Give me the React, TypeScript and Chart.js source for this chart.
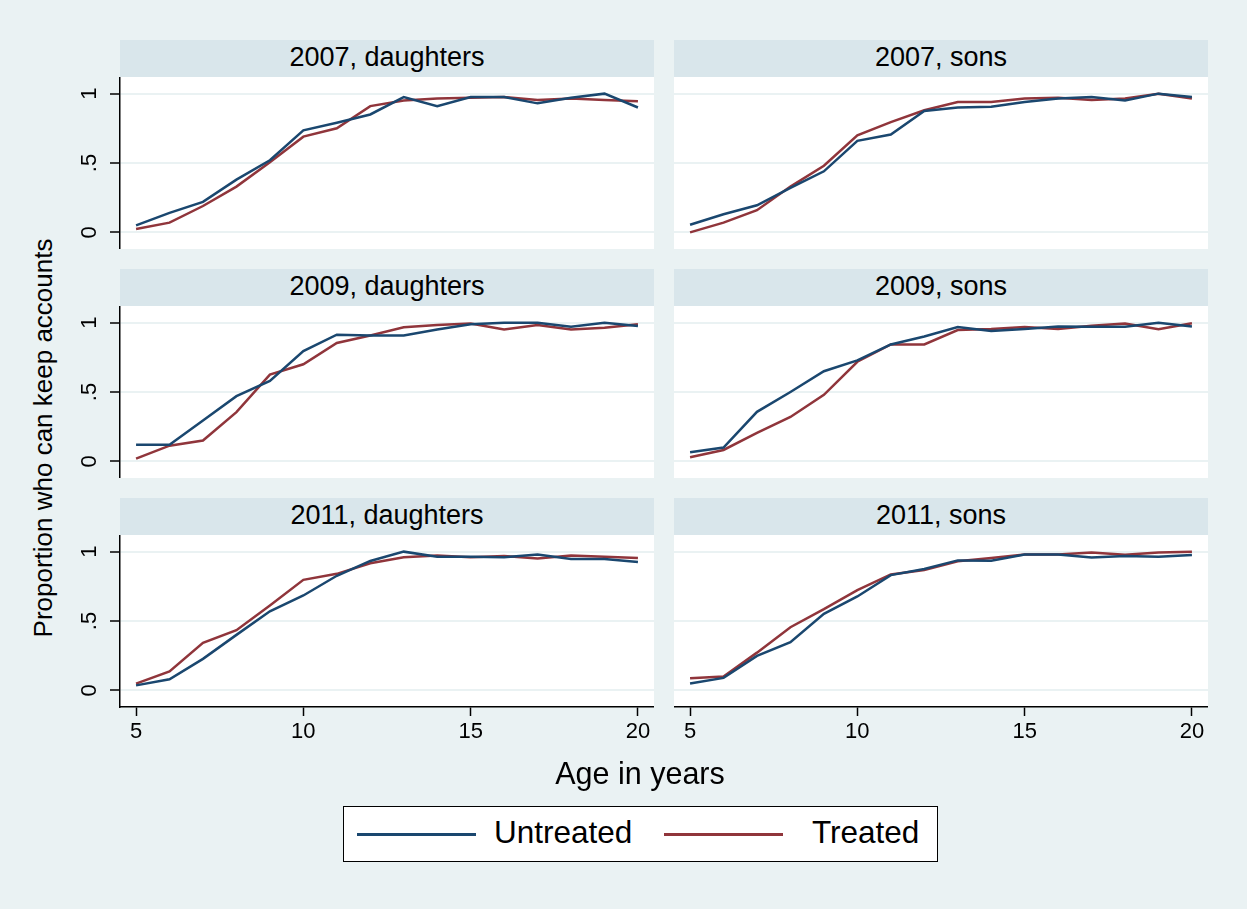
import React, { useEffect, useRef } from 'react';
import { Chart, registerables } from 'chart.js';

Chart.register(...registerables);

// ---------------- data ----------------
const ages = [5, 6, 7, 8, 9, 10, 11, 12, 13, 14, 15, 16, 17, 18, 19, 20];
const xTicks = [5, 10, 15, 20];
const yTicks = [0, 0.5, 1];
const yTickLabels = ['0', '.5', '1'];
const seriesNames = ['Untreated', 'Treated'];
const panelTitles = ['2007, daughters', '2007, sons', '2009, daughters', '2009, sons', '2011, daughters', '2011, sons'];
const xTitle = 'Age in years';
const yTitle = 'Proportion who can keep accounts';

const untreated2007Daughters = [0.05, 0.14, 0.22, 0.38, 0.52, 0.735, 0.79, 0.85, 0.975, 0.91, 0.975, 0.975, 0.93, 0.97, 1.0, 0.9];
const treated2007Daughters = [0.024, 0.07, 0.19, 0.33, 0.505, 0.69, 0.75, 0.91, 0.95, 0.965, 0.97, 0.975, 0.955, 0.965, 0.955, 0.945];
const untreated2007Sons = [0.055, 0.13, 0.195, 0.32, 0.44, 0.66, 0.705, 0.875, 0.9, 0.905, 0.94, 0.965, 0.975, 0.95, 1.0, 0.975];
const treated2007Sons = [0.0, 0.07, 0.16, 0.33, 0.48, 0.7, 0.795, 0.88, 0.94, 0.94, 0.965, 0.97, 0.955, 0.965, 1.0, 0.965];
const untreated2009Daughters = [0.12, 0.12, 0.295, 0.47, 0.58, 0.795, 0.913, 0.908, 0.908, 0.95, 0.988, 1.0, 1.0, 0.97, 1.0, 0.976];
const treated2009Daughters = [0.02, 0.113, 0.15, 0.355, 0.625, 0.7, 0.853, 0.908, 0.966, 0.983, 0.993, 0.95, 0.983, 0.95, 0.964, 0.988];
const untreated2009Sons = [0.065, 0.1, 0.357, 0.5, 0.65, 0.728, 0.843, 0.9, 0.968, 0.94, 0.954, 0.973, 0.971, 0.971, 1.0, 0.973];
const treated2009Sons = [0.029, 0.082, 0.205, 0.32, 0.48, 0.718, 0.843, 0.843, 0.947, 0.954, 0.968, 0.954, 0.978, 0.993, 0.952, 0.995];
const untreated2011Daughters = [0.036, 0.08, 0.227, 0.4, 0.57, 0.684, 0.826, 0.933, 1.0, 0.964, 0.964, 0.96, 0.98, 0.947, 0.947, 0.925];
const treated2011Daughters = [0.048, 0.137, 0.342, 0.434, 0.612, 0.797, 0.84, 0.916, 0.96, 0.973, 0.96, 0.969, 0.95, 0.973, 0.964, 0.954];
const untreated2011Sons = [0.05, 0.09, 0.248, 0.347, 0.552, 0.677, 0.831, 0.875, 0.937, 0.935, 0.98, 0.98, 0.957, 0.969, 0.964, 0.976];
const treated2011Sons = [0.087, 0.1, 0.272, 0.455, 0.585, 0.723, 0.836, 0.867, 0.93, 0.954, 0.98, 0.98, 0.993, 0.978, 0.993, 1.0];

// ---------------- style ----------------
const FONT = '"Liberation Sans", Arial, Helvetica, sans-serif';
const NAVY = '#1a476f';
const MAROON = '#90353b';
const BG = '#eaf2f3';
const HEADER_BG = '#d9e6eb';
const GRID = '#eaf2f3';

const X_MIN = 4.52;
const X_MAX = 20.48;
const Y_MIN = -0.12;
const Y_MAX = 1.12;

const PLOT_W = 534;
const PLOT_H = 172;
const HEADER_H = 37;
const COL_X = [120, 674];
const ROW_Y = [40, 269, 498];
const YAXIS_W = 50;
const XAXIS_H = 52;

type PanelProps = { title: string; untreated: number[]; treated: number[]; col: number; row: number };

function Panel({ title, untreated, treated, col, row }: PanelProps) {
  const ref = useRef<HTMLCanvasElement>(null);
  const showY = col === 0;
  const showX = row === 2;
  const canvasLeft = COL_X[col] - (showY ? YAXIS_W : 0);
  const canvasW = PLOT_W + (showY ? YAXIS_W : 0);
  const canvasTop = ROW_Y[row] + HEADER_H;
  const canvasH = PLOT_H + (showX ? XAXIS_H : 0);

  useEffect(() => {
    if (!ref.current) return;
    const chart = new Chart(ref.current, {
      type: 'line',
      data: {
        datasets: [
          {
            label: seriesNames[0],
            data: ages.map((a, i) => ({ x: a, y: untreated[i] })),
            borderColor: NAVY,
            backgroundColor: NAVY,
            borderWidth: 2.5,
            pointRadius: 0,
            fill: false,
            tension: 0,
          },
          {
            label: seriesNames[1],
            data: ages.map((a, i) => ({ x: a, y: treated[i] })),
            borderColor: MAROON,
            backgroundColor: MAROON,
            borderWidth: 2.5,
            pointRadius: 0,
            fill: false,
            tension: 0,
          },
        ],
      },
      options: {
        responsive: false,
        animation: false,
        devicePixelRatio: 1,
        layout: { padding: 0 },
        plugins: {
          legend: { display: false },
          tooltip: { enabled: false },
          title: { display: false },
        },
        scales: {
          x: {
            type: 'linear',
            min: X_MIN,
            max: X_MAX,
            display: showX,
            afterBuildTicks: (s: any) => {
              s.ticks = xTicks.map((v) => ({ value: v }));
            },
            afterFit: (s: any) => {
              s.height = showX ? XAXIS_H : 0;
              s.paddingLeft = 0;
              s.paddingRight = 0;
            },
            grid: {
              drawOnChartArea: false,
              drawTicks: true,
              tickLength: 9,
              tickColor: '#000',
              tickWidth: 1.5,
            },
            border: { display: true, color: '#000', width: 1.5 },
            ticks: {
              color: '#000',
              font: { family: FONT, size: 22 },
              padding: 3,
              minRotation: 0,
              maxRotation: 0,
              callback: (v: any) => String(v),
            },
          },
          y: {
            type: 'linear',
            min: Y_MIN,
            max: Y_MAX,
            afterBuildTicks: (s: any) => {
              s.ticks = yTicks.map((v) => ({ value: v }));
            },
            afterFit: (s: any) => {
              s.width = showY ? YAXIS_W : 0;
              s.paddingTop = 0;
              s.paddingBottom = 0;
            },
            grid: {
              color: GRID,
              lineWidth: 2,
              drawTicks: showY,
              tickLength: 10,
              tickColor: '#000',
              tickWidth: 1.5,
            },
            border: { display: showY, color: '#000', width: 1.5 },
            ticks: {
              display: showY,
              color: '#000',
              font: { family: FONT, size: 22 },
              padding: 11,
              minRotation: 90,
              maxRotation: 90,
              crossAlign: 'center',
              callback: (v: any) => {
                const idx = yTicks.indexOf(Number(v));
                return idx >= 0 ? yTickLabels[idx] : '';
              },
            },
          },
        },
      } as any,
    });
    return () => chart.destroy();
  }, []);

  return (
    <>
      <div
        style={{
          position: 'absolute',
          left: COL_X[col],
          top: ROW_Y[row],
          width: PLOT_W,
          height: HEADER_H,
          background: HEADER_BG,
        }}
      >
        <div
          style={{
            position: 'absolute',
            left: 0,
            right: 0,
            top: 4,
            textAlign: 'center',
            fontFamily: FONT,
            fontSize: 27,
            lineHeight: '27px',
            color: '#000',
            whiteSpace: 'nowrap',
          }}
        >
          {title}
        </div>
      </div>
      <div
        style={{
          position: 'absolute',
          left: COL_X[col],
          top: ROW_Y[row] + HEADER_H,
          width: PLOT_W,
          height: PLOT_H,
          background: '#ffffff',
        }}
      />
      <canvas
        ref={ref}
        width={canvasW}
        height={canvasH}
        style={{ position: 'absolute', left: canvasLeft, top: canvasTop, width: canvasW, height: canvasH }}
      />
    </>
  );
}

export default function App() {
  const panels = [
    { untreated: untreated2007Daughters, treated: treated2007Daughters },
    { untreated: untreated2007Sons, treated: treated2007Sons },
    { untreated: untreated2009Daughters, treated: treated2009Daughters },
    { untreated: untreated2009Sons, treated: treated2009Sons },
    { untreated: untreated2011Daughters, treated: treated2011Daughters },
    { untreated: untreated2011Sons, treated: treated2011Sons },
  ];
  return (
    <div
      style={{
        position: 'absolute',
        left: 0,
        top: 0,
        width: 1247,
        height: 909,
        background: BG,
        overflow: 'hidden',
        fontFamily: FONT,
      }}
    >
      {panels.map((p, i) => (
        <Panel
          key={i}
          title={panelTitles[i]}
          untreated={p.untreated}
          treated={p.treated}
          col={i % 2}
          row={Math.floor(i / 2)}
        />
      ))}
      {/* y axis title */}
      <div
        style={{
          position: 'absolute',
          left: 43,
          top: 438,
          transform: 'translate(-50%, -50%) rotate(-90deg)',
          fontSize: 26,
          lineHeight: '26px',
          whiteSpace: 'nowrap',
          color: '#000',
        }}
      >
        {yTitle}
      </div>
      {/* x axis title */}
      <div
        style={{
          position: 'absolute',
          left: 440,
          width: 400,
          top: 758,
          textAlign: 'center',
          fontSize: 30.5,
          lineHeight: '30px',
          whiteSpace: 'nowrap',
          color: '#000',
        }}
      >
        {xTitle}
      </div>
      {/* legend */}
      <div
        style={{
          position: 'absolute',
          left: 343,
          top: 806,
          width: 595,
          height: 56,
          boxSizing: 'border-box',
          border: '1.5px solid #000',
          background: '#ffffff',
        }}
      >
        {[0, 1].map((k) => (
          <React.Fragment key={k}>
            <div
              style={{
                position: 'absolute',
                left: (k === 0 ? 357 : 664) - 344,
                top: 26,
                width: 119,
                height: 2.5,
                background: k === 0 ? NAVY : MAROON,
              }}
            />
            <div
              style={{
                position: 'absolute',
                left: (k === 0 ? 494 : 812) - 344,
                top: 10,
                fontSize: 31.5,
                lineHeight: '31px',
                whiteSpace: 'nowrap',
                color: '#000',
              }}
            >
              {seriesNames[k]}
            </div>
          </React.Fragment>
        ))}
      </div>
    </div>
  );
}
